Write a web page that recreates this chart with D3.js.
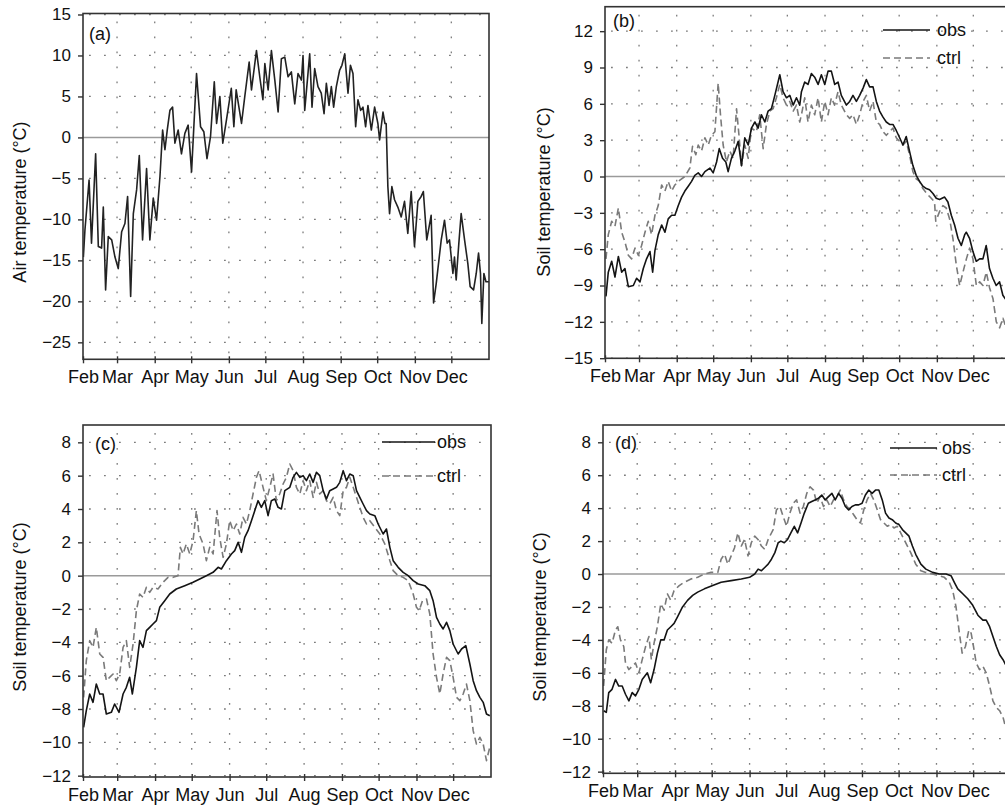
<!DOCTYPE html>
<html>
<head>
<meta charset="utf-8">
<script src="https://cdn.jsdelivr.net/npm/d3@7"></script>
<style>
  body { margin: 0; background: #fff; }
  svg { display: block; font-family: "Liberation Sans", Arial, sans-serif; }
</style>
</head>
<body>
<svg id="chart" width="1005" height="807"></svg>
<script>
// days are counted from 1 February, values in °C
var monthNames = ['Feb', 'Mar', 'Apr', 'May', 'Jun', 'Jul', 'Aug', 'Sep', 'Oct', 'Nov', 'Dec'];

var airDays = [0.3,1.6,5,7,10.4,12.6,15.3,16.7,18.6,20.8,23.6,26.3,29,31.8,34.5,36.7,39.2,41.4,44.1,46.3,49,52.3,55,57.8,60.5,63.3,65.5,67.4,69.3,71.5,73.7,75.6,78.3,81,83.8,86.5,89.3,93.4,96.7,99.4,102,104.9,108,109.9,112.6,115,118,122,124.1,126,130.4,133.1,136.7,138.6,142.7,145.4,148,149.6,152.3,155,157.8,160.5,163.2,166,168.7,171.4,174.2,176.9,179.7,181,182.4,185.2,186.5,188.4,190.6,193.3,196,198.3,200.2,202.4,204.3,206.2,208.4,211.1,213,215.3,218,220,222.1,224.3,226.2,228.4,230.3,232.5,234.4,237.2,239.9,242.6,244,246.8,248.4,249.4,250.8,252.2,254.1,256.3,259,261.8,264.5,267.2,270,272.7,275.5,278.2,280,282.8,286.4,288.4,290.6,294.7,297.4,299.6,301.5,304.3,305.6,307,309.2,311.1,313.9,316.6,318.5,321.3,323.5,325.4,327,328.1,329.8,331.5,334];
var airTemp = [-14.6,-11.3,-5.2,-12.9,-2.0,-13.3,-13.5,-8.5,-18.6,-12.1,-12.5,-14.6,-16.0,-11.5,-10.5,-7.2,-19.4,-9.3,-6.4,-2.2,-12.5,-3.8,-12.5,-7.4,-10.1,-4.8,0.9,-1.5,0.9,3.3,3.7,-0.7,0.9,-2.0,0.5,1.5,-4.2,7.8,1.3,0.7,-2.6,0.1,6.8,1.7,5.0,-0.7,2.1,6.0,1.3,5.8,1.7,5.0,9.2,5.8,10.6,7.4,4.6,9.0,5.8,10.6,7.0,3.1,9.6,9.8,7.4,8.0,4.1,7.8,7.0,10.0,3.3,8.0,10.2,3.7,8.4,6.2,5.4,2.9,6.6,3.9,6.2,3.7,6.2,8.2,8.8,10.2,5.4,8.8,7.8,1.3,4.6,3.3,3.7,1.3,3.9,0.9,3.7,1.7,-0.3,3.1,1.7,1.7,-6.0,-9.3,-6.0,-7.6,-8.5,-9.7,-7.8,-11.7,-6.6,-13.3,-7.8,-7.2,-6.6,-12.5,-9.5,-20.2,-17.8,-12.5,-10.1,-12.9,-12.5,-16.6,-14.6,-17.4,-12.9,-9.3,-12.5,-15.4,-18.2,-18.6,-16.6,-14.1,-16.6,-22.7,-16.6,-17.6,-17.6];

var bObsDays = [0.8,2.7,5.5,8.2,11,13.7,16.4,19.2,23.3,26,28.8,31.5,34.2,37,39.2,41.1,43.8,46.6,49.3,52,54.8,57.5,60.3,63,65.7,68.5,71.2,73.9,76.7,79.4,82.2,86.3,89,91.8,94,96.7,99.4,101.3,104,106.8,109.6,112.3,115,117.8,120.5,123.3,126,128.7,131.5,134.2,136.9,139.7,143.8,146.5,149.3,152,154.8,157.5,160.2,161.6,164.3,167,169.8,172.5,175.3,178,180.8,183.5,186.2,189,191.7,194.4,198.6,201.3,204,206.8,209.5,212.3,215,217.7,220.5,223.2,225.9,228.7,231.4,234.1,236.9,239.6,242.4,245.1,247.8,250.5,253.3,256,258.8,261.5,264.3,267,269.8,272.5,275.2,279.4,282.1,284.9,287.6,290.4,293.1,295.9,297.2,299.9,302.7,305.4,308.2,310.9,313.6,316.3,319.1,321.8,324.6,327.3,330,334];
var bObs = [-9.9,-7.9,-7.0,-8.3,-6.6,-7.9,-7.6,-9.1,-9.0,-8.4,-8.7,-7.6,-6.8,-6.2,-7.9,-6.1,-4.8,-4.0,-4.6,-3.5,-3.2,-3.2,-2.4,-1.7,-1.2,-0.8,-0.4,0.1,0.3,0.0,0.4,0.7,0.3,1.2,2.3,1.5,1.2,0.4,1.5,2.1,2.9,0.9,3.2,2.6,4.0,4.5,4.0,5.1,4.5,5.4,5.6,6.7,8.4,7.0,6.5,6.7,5.9,6.5,5.9,7.0,7.8,7.6,8.5,8.2,7.6,8.4,7.6,8.7,8.7,7.6,7.8,6.7,5.9,6.2,6.7,6.2,6.7,7.3,8.0,7.4,7.4,6.2,5.4,4.9,4.5,4.3,4.3,3.8,3.2,2.6,3.3,2.1,0.9,0.1,-0.4,-0.8,-1.0,-1.1,-1.4,-1.8,-1.9,-1.7,-2.1,-3.2,-4.0,-5.1,-5.7,-4.8,-4.6,-5.1,-6.2,-7.0,-6.8,-6.8,-5.7,-7.6,-8.4,-9.0,-8.7,-9.8,-10.2,-10.8];

var bCtrlDays = [0.8,2.7,5.5,8.2,11,13.7,16.4,19.2,21.9,24.7,27.4,30.1,32.9,35.6,38.3,41.1,43.8,46.6,49.3,52,54.8,57.5,61.6,65.7,69.8,72,74.7,76.7,79.4,82.2,84.9,87.6,90.4,93.1,95,97.2,99.9,102.7,105.4,108.2,110.4,112.3,115,117.8,120.5,124.6,127.3,130.1,132.8,135.6,138.3,141,143.8,146.5,149.3,152,154.8,157.5,160.2,161.6,164.3,167,169.8,172.5,175.3,178,180.8,183.5,186.2,188.9,191.7,194.4,198.6,201.3,204,206.8,209.5,212.3,215,217.7,220.5,223.2,225.9,228.7,231.4,234.1,236.9,239.6,242.4,245.1,247.8,250.5,253.3,256,258.8,261.5,265.6,268.4,271.1,272.1,275.2,278,280.7,283.5,286.2,289,291.8,294.5,297.3,300,302.7,305.5,308.2,310.9,313.7,316.4,319.2,321.9,324.6,327.4,330,334];
var bCtrl = [-6.8,-4.8,-3.7,-4.1,-2.6,-4.6,-5.4,-6.5,-6.8,-5.9,-6.5,-5.7,-4.6,-3.7,-4.8,-3.2,-2.4,-0.7,-1.2,-0.4,-1.2,-0.7,-0.3,0.0,0.7,2.5,1.8,2.6,2.1,3.2,2.6,3.4,3.7,7.7,5.1,2.6,1.2,2.1,1.5,5.6,3.2,0.9,2.6,1.5,4.0,3.7,5.1,2.3,4.3,5.4,5.6,6.5,7.6,6.5,5.9,6.2,5.4,5.9,4.5,5.1,6.5,4.5,5.9,5.1,6.5,4.5,6.2,5.1,6.5,5.9,7.0,5.9,5.1,4.8,5.1,4.3,5.1,6.2,6.7,5.4,6.2,4.5,4.3,3.7,3.4,3.7,4.0,3.2,2.9,2.6,2.9,1.8,0.4,-0.2,-0.4,-1.0,-1.5,-1.8,-2.1,-3.7,-2.9,-2.4,-2.6,-3.5,-5.1,-7.3,-9.0,-7.9,-6.8,-5.9,-6.8,-9.0,-8.7,-9.0,-7.9,-9.2,-10.1,-12.0,-12.5,-11.7,-12.5,-13.0];

var cObsDays = [0.5,2.7,5.5,8.2,10.9,13.7,16.4,19.1,23.2,25.9,29.5,32.8,35.5,38.2,40.4,43.7,46.4,49.1,51.9,54.6,57.3,60.1,62.8,66.9,71,76.4,83.3,90.1,95.6,101,106.5,110.6,113.3,117.4,121.5,124.2,127,129.7,132.4,135.1,137.9,140.6,143.3,146,148.8,151.5,154.2,157,159.7,162.4,165.2,169.3,172,174.7,177.5,180.2,182.9,185.6,188.4,191.1,193.8,196.6,199.3,202,204.8,207.5,210.2,213,215.7,218.4,221.2,223.9,226.6,229.3,232.1,234.8,238.9,241.6,245.7,248.4,251.2,253.9,258,262.1,266.2,270.3,274.4,279.8,283.9,286.6,289.4,292.1,294.8,297.6,300.3,303,307.1,309.9,313.4,316.7,319.4,322.1,324.9,327.6,330.3,333];
var cObs = [-9.1,-8.1,-7.1,-7.6,-6.5,-7.1,-7.1,-8.3,-8.2,-7.7,-8.2,-7.1,-6.7,-6.1,-7.1,-5.5,-3.9,-4.3,-3.3,-3.1,-2.9,-2.7,-1.9,-1.5,-1.1,-0.8,-0.6,-0.4,-0.2,0.0,0.2,0.5,0.4,0.9,1.3,1.5,2.0,1.4,2.3,2.7,3.3,3.9,4.5,4.1,4.5,3.6,4.5,4.6,4.1,4.0,5.1,5.3,5.9,6.2,5.9,6.0,5.7,6.1,5.6,6.2,6.0,5.1,4.6,5.1,5.2,5.3,5.6,6.3,5.7,6.1,6.0,5.1,4.7,4.3,3.9,3.7,3.6,3.1,2.5,2.8,1.7,0.9,0.5,0.2,0.0,-0.3,-0.5,-0.6,-0.9,-1.5,-2.5,-2.9,-3.2,-2.8,-3.3,-4.1,-4.7,-4.4,-4.2,-5.3,-6.3,-6.9,-7.3,-7.6,-8.3,-8.4];

var cCtrlDays = [0.5,2.7,5.5,8.2,10.9,13.7,16.4,19.1,21.8,24.6,27.3,30,32.8,35.5,38.2,41,43.7,46.4,49.1,51.9,54.6,57.3,61.4,65.5,69.6,73.7,77.8,79.7,81.9,84.6,87.4,90.1,92.8,95,98.3,101,103.7,106.5,109.7,111.9,114.7,117.4,120.1,122.9,125.6,128.3,131,133.8,136.5,139.2,142,144.1,147.4,150.1,152.9,155.6,158.3,161,163.8,166.5,169.3,172,174.7,177.5,180.2,182.9,185.6,188.4,191.1,193.8,196.6,199.3,202,204.8,207.5,210.2,213,215.7,218.4,221.2,223.9,226.6,229.3,232.1,234.8,238.9,243,247.1,251.2,253.9,258,262.1,266.2,270.3,273,275.2,277.9,281.2,283.9,286.6,289.4,292.1,294.8,297.6,300.3,303,305.8,308.5,311.2,313.9,316.7,319.4,322.1,324.9,327.6,330.3,333];
var cCtrl = [-7.3,-5.1,-3.9,-4.3,-3.1,-4.7,-4.9,-6.3,-6.1,-5.9,-6.3,-5.9,-4.3,-3.9,-5.5,-4.1,-2.1,-1.1,-1.3,-0.7,-1.0,-0.7,-0.8,-0.4,-0.1,-0.1,0.0,1.7,1.3,1.9,1.3,2.1,3.9,2.5,1.9,0.9,1.7,1.3,3.9,2.3,1.1,1.9,3.3,2.7,3.1,2.5,3.5,3.1,3.9,4.9,5.9,6.3,5.3,4.5,5.3,6.1,4.5,4.9,5.5,5.9,6.7,6.3,5.3,4.9,5.7,5.1,5.7,4.7,5.6,4.9,5.1,4.5,4.3,4.7,3.9,3.6,5.1,5.3,5.9,5.3,4.7,4.1,3.5,3.1,3.3,2.9,2.5,1.9,0.9,0.3,0.0,-0.1,-0.3,-1.1,-1.9,-2.1,-1.5,-1.4,-2.3,-4.7,-6.1,-7.1,-5.9,-4.9,-5.1,-6.1,-7.3,-7.5,-7.1,-6.5,-7.5,-9.3,-10.1,-9.7,-10.1,-11.1,-10.3];

var dObsDays = [0.5,2.7,4.7,7.4,10.2,12.9,15.7,18.4,21.2,23.9,26.6,29.4,32.1,36.3,39,41.8,44.5,47.3,50,52.7,55.5,58.2,61,65.1,69.2,73.4,77.5,83,89.8,96.7,104.9,113.2,120,124.2,127,129.7,132.4,135.2,137.9,140.7,143.4,145.6,148.4,151.1,153.8,156.6,159.3,162.1,164.8,168.1,170.9,173.6,176.4,179.1,181.9,184.6,187.4,190.1,192.9,195.6,198.4,201.1,203.8,206.6,209.3,212.1,214.8,217.6,220.3,223.1,225.8,228.6,231.3,234.1,236.8,239.6,242.3,245.1,247.8,250.5,253.3,256,260.2,264.3,269.8,275.3,280.8,284.9,287.6,290.4,294.5,298.6,302.7,306.9,311,313.7,316.5,319.2,322,324.7,327.5,330.2,331.6,334];
var dObs = [-8.3,-8.4,-7.2,-7.0,-6.4,-6.8,-6.8,-7.3,-7.7,-7.2,-7.4,-7.0,-6.4,-6.0,-6.6,-5.8,-4.8,-4.0,-4.0,-3.4,-3.2,-3.0,-2.6,-2.0,-1.6,-1.3,-1.1,-0.9,-0.7,-0.5,-0.4,-0.3,-0.2,0.0,0.3,0.2,0.4,0.6,0.9,1.3,1.9,2.0,1.9,2.1,2.5,2.9,2.5,3.1,3.7,4.3,4.4,4.5,4.6,4.8,4.5,4.7,4.9,4.5,4.9,4.6,4.1,3.9,4.1,4.2,4.2,4.3,4.8,5.1,4.9,5.1,5.1,4.5,3.7,3.4,3.3,3.1,3.0,2.7,2.5,2.3,1.7,1.2,0.6,0.3,0.1,0.0,0.0,-0.1,-0.5,-0.9,-1.2,-1.5,-1.9,-2.5,-2.8,-2.8,-3.2,-3.8,-4.4,-4.9,-5.2,-5.6,-6.0,-6.5];

var dCtrlDays = [0.5,2.7,4.7,7.4,10.2,12.1,14.3,17,18.4,21.2,23.9,26.6,29.4,32.1,34.9,37.6,39.6,41.8,44.5,47.3,50,52.7,55.5,58.2,62.4,66.5,72,77.5,83,88.5,94,96.7,99.5,102.2,104.9,107.7,110.4,113.2,115.9,118.7,121.4,124.2,126.9,129.7,132.4,135.2,139.3,142,144.8,147.5,150.3,153,155.8,158.5,161.3,164,166.8,169.5,172.3,175,177.7,180.5,183.2,186,188.7,191.5,194.2,197,199.7,202.5,205.2,208,210.7,213.5,216.2,219,221.7,224.5,227.2,230,232.7,235.4,238.2,240.9,243.7,246.4,249.2,251.9,256,260.2,264.3,269.8,275.3,279.4,283.5,286.3,289,291.8,294,296.7,299.5,301.4,303.3,305.5,308.2,311,313.7,316.5,319.2,322,324.7,327.5,330.2,334];
var dCtrl = [-6.8,-4.6,-4.0,-4.2,-3.4,-3.2,-4.0,-4.4,-5.4,-5.8,-5.6,-5.4,-6.0,-5.2,-4.4,-3.8,-5.2,-4.2,-3.2,-1.8,-2.2,-1.2,-1.6,-1.0,-0.7,-0.5,-0.3,-0.2,0.0,0.1,0.1,0.9,1.2,0.6,1.1,1.6,2.5,1.7,2.1,1.1,1.9,2.3,2.1,1.7,1.5,2.1,2.7,3.9,4.1,3.5,2.9,3.7,4.3,4.5,3.7,4.1,4.9,5.3,5.1,4.3,4.7,4.1,4.5,4.1,4.5,4.7,5.1,4.5,4.1,3.9,3.6,3.3,3.1,3.9,4.5,4.9,4.5,3.9,3.3,3.1,2.9,3.0,2.8,2.9,2.5,2.1,1.7,1.3,0.6,0.2,0.1,0.0,-0.1,-0.2,-0.5,-1.0,-2.0,-3.6,-4.8,-4.4,-3.4,-3.6,-4.4,-5.4,-5.8,-5.6,-6.0,-6.8,-7.7,-8.1,-8.3,-8.7,-9.5,-9.8];

var airTicks = [-25, -20, -15, -10, -5, 0, 5, 10, 15];
var soilTicksB = [-15, -12, -9, -6, -3, 0, 3, 6, 9, 12];
var soilTicksCD = [-12, -10, -8, -6, -4, -2, 0, 2, 4, 6, 8];

var start = new Date(Date.UTC(2001, 1, 1));
var end = new Date(Date.UTC(2002, 0, 1));
function dayDate(d) { return new Date(start.getTime() + d * 864e5); }
var months = d3.utcMonth.range(start, end);

var panels = [
  { key: 'a', left: 83, top: 13.5, width: 406, height: 345.8, yDomain: [-27.07, 15.12], yTicks: airTicks,
    title: 'Air temperature (°C)', titleX: 20, titleY: 202, labelX: 89, labelY: 40,
    series: [{ days: airDays, vals: airTemp, color: '#222', dash: null, width: 1.6 }], legend: null },
  { key: 'b', left: 605, top: 6.7, width: 406, height: 351.6, yDomain: [-15.01, 14.02], yTicks: soilTicksB,
    title: 'Soil temperature (°C)', titleX: 544, titleY: 192, labelX: 613, labelY: 27,
    series: [{ days: bCtrlDays, vals: bCtrl, color: '#7a7a7a', dash: '7,4', width: 1.6 },
             { days: bObsDays, vals: bObs, color: '#141414', dash: null, width: 1.6 }],
    legend: { x1: 883, x2: 930, tx: 937, y1: 30, y2: 58 } },
  { key: 'c', left: 83, top: 425, width: 408, height: 352, yDomain: [-12.08, 9.04], yTicks: soilTicksCD,
    title: 'Soil temperature (°C)', titleX: 20, titleY: 607, labelX: 95, labelY: 450,
    series: [{ days: cCtrlDays, vals: cCtrl, color: '#7a7a7a', dash: '7,4', width: 1.6 },
             { days: cObsDays, vals: cObs, color: '#141414', dash: null, width: 1.6 }],
    legend: { x1: 382, x2: 435, tx: 437, y1: 442, y2: 476 } },
  { key: 'd', left: 603, top: 425, width: 408, height: 348.3, yDomain: [-12.1, 9.05], yTicks: soilTicksCD,
    title: 'Soil temperature (°C)', titleX: 540, titleY: 617, labelX: 615, labelY: 449,
    series: [{ days: dCtrlDays, vals: dCtrl, color: '#7a7a7a', dash: '7,4', width: 1.6 },
             { days: dObsDays, vals: dObs, color: '#141414', dash: null, width: 1.6 }],
    legend: { x1: 890, x2: 937, tx: 942, y1: 448, y2: 475 } }
];

var svg = d3.select('#chart');
var defs = svg.append('defs');

panels.forEach(function(p) {
  var x = d3.scaleUtc().domain([start, end]).range([p.left, p.left + p.width]);
  var y = d3.scaleLinear().domain(p.yDomain).range([p.top + p.height, p.top]);
  var g = svg.append('g');

  defs.append('clipPath').attr('id', 'clip-' + p.key)
    .append('rect').attr('x', p.left).attr('y', p.top).attr('width', p.width).attr('height', p.height);

  // dotted grid
  var grid = g.append('g').attr('stroke', '#7c7c7c').attr('stroke-width', 1.3)
    .attr('stroke-dasharray', '1.8,13.2').attr('clip-path', 'url(#clip-' + p.key + ')');
  grid.selectAll('line.h').data(p.yTicks.filter(function(t) { return t !== 0; }))
    .enter().append('line').attr('class', 'h')
    .attr('x1', p.left + 6).attr('x2', p.left + p.width)
    .attr('y1', function(t) { return y(t); }).attr('y2', function(t) { return y(t); });
  grid.selectAll('line.v').data(months.slice(1))
    .enter().append('line').attr('class', 'v')
    .attr('x1', function(m) { return x(m); }).attr('x2', function(m) { return x(m); })
    .attr('y1', p.top + 8).attr('y2', p.top + p.height);

  // zero line
  g.append('line').attr('x1', p.left).attr('x2', p.left + p.width)
    .attr('y1', y(0)).attr('y2', y(0)).attr('stroke', '#9a9a9a').attr('stroke-width', 1.5);

  // series
  p.series.forEach(function(s) {
    var pts = s.days.map(function(d, i) { return [d, s.vals[i]]; });
    var line = d3.line().x(function(d) { return x(dayDate(d[0])); }).y(function(d) { return y(d[1]); });
    g.append('path').datum(pts).attr('d', line)
      .attr('fill', 'none').attr('stroke', s.color).attr('stroke-width', s.width)
      .attr('stroke-dasharray', s.dash).attr('stroke-linejoin', 'round')
      .attr('clip-path', 'url(#clip-' + p.key + ')');
  });

  // frame
  g.append('rect').attr('x', p.left).attr('y', p.top).attr('width', p.width).attr('height', p.height)
    .attr('fill', 'none').attr('stroke', '#333').attr('stroke-width', 1.6);

  // axes
  var xa = g.append('g').attr('transform', 'translate(0,' + (p.top + p.height) + ')')
    .call(d3.axisBottom(x).tickValues(months).tickFormat(d3.utcFormat('%b')).tickSize(4).tickPadding(7));
  xa.select('.domain').remove();
  xa.attr('font-size', 18).attr('font-family', null);
  xa.selectAll('.tick line').attr('y1', -3).attr('stroke', '#333').attr('stroke-width', 1.4);
  xa.selectAll('.tick text').attr('fill', '#111');

  var ya = g.append('g').attr('transform', 'translate(' + p.left + ',0)')
    .call(d3.axisLeft(y).tickValues(p.yTicks).tickSize(5).tickPadding(7));
  ya.select('.domain').remove();
  ya.attr('font-size', 17).attr('font-family', null);
  ya.selectAll('.tick line').attr('stroke', '#333').attr('stroke-width', 1.4);
  ya.selectAll('.tick text').attr('fill', '#111');

  // axis title and panel label
  g.append('text').attr('transform', 'translate(' + p.titleX + ',' + p.titleY + ') rotate(-90)')
    .attr('text-anchor', 'middle').attr('dy', '0.35em').attr('font-size', 18).attr('fill', '#111')
    .text(p.title);
  g.append('text').attr('x', p.labelX).attr('y', p.labelY).attr('font-size', 18).attr('fill', '#111')
    .text('(' + p.key + ')');

  // legend
  if (p.legend) {
    var L = p.legend;
    var items = [{ name: 'obs', y: L.y1, s: p.series[1] }, { name: 'ctrl', y: L.y2, s: p.series[0] }];
    items.forEach(function(it) {
      g.append('line').attr('x1', L.x1).attr('x2', L.x2).attr('y1', it.y).attr('y2', it.y)
        .attr('stroke', it.s.color).attr('stroke-width', it.s.width).attr('stroke-dasharray', it.s.dash);
      g.append('text').attr('x', L.tx).attr('y', it.y).attr('dy', '0.35em')
        .attr('font-size', 18).attr('fill', '#111').text(it.name);
    });
  }
});
</script>
</body>
</html>
